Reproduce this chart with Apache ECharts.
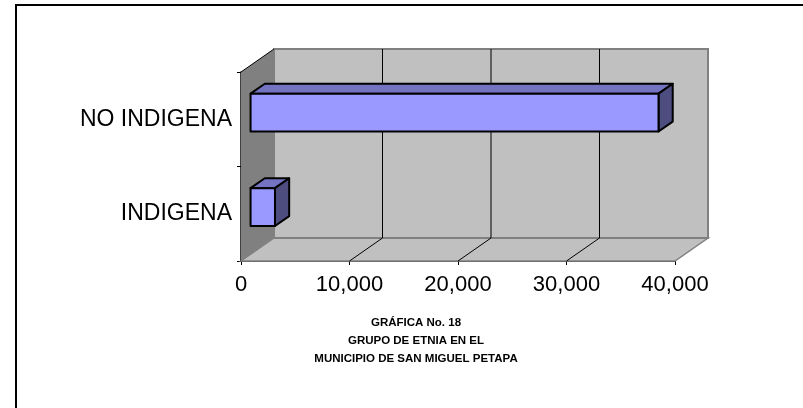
<!DOCTYPE html>
<html>
<head>
<meta charset="utf-8">
<script src="https://cdn.jsdelivr.net/npm/echarts@6/dist/echarts.min.js"></script>
<style>
  html, body { margin: 0; padding: 0; background: #fff; }
  #chart { width: 803px; height: 408px; }
</style>
</head>
<body>
<div id="chart"></div>
<script>
const categories = ['INDIGENA', 'NO INDIGENA']
const values = [2250, 37600]
const xTicks = [0, 10000, 20000, 30000, 40000]
const titleLines = ['GRÁFICA No. 18', 'GRUPO DE ETNIA EN EL', 'MUNICIPIO DE SAN MIGUEL PETAPA']

// depth of the 3D box (back wall offset)
const DX = 33
const DY = -23
// bar sits between these depth fractions
const F1 = 0.29
const F2 = 0.72

const chart = echarts.init(document.getElementById('chart'))

const renderFrame = (params, api) => {
  const cs = params.coordSys
  const x0 = cs.x, x1 = cs.x + cs.width
  const top = cs.y, bottom = cs.y + cs.height
  const children = []

  // floor
  children.push({
    type: 'polygon',
    shape: { points: [[x0, bottom], [x0 + DX, bottom + DY], [x1 + DX, bottom + DY], [x1, bottom]] },
    style: { fill: '#c0c0c0', stroke: '#808080', lineWidth: 1.5 }
  })
  // back wall
  children.push({
    type: 'rect',
    shape: { x: x0 + DX, y: top + DY, width: x1 - x0, height: bottom - top },
    style: { fill: '#c0c0c0', stroke: '#808080', lineWidth: 2 }
  })
  // side wall
  children.push({
    type: 'polygon',
    shape: { points: [[x0, top], [x0 + DX, top + DY], [x0 + DX, bottom + DY], [x0, bottom]] },
    style: { fill: '#808080' }
  })
  children.push({
    type: 'line',
    shape: { x1: x0, y1: top, x2: x0 + DX, y2: top + DY },
    style: { stroke: '#000', lineWidth: 1 }
  })

  // grid lines on wall and floor
  xTicks.slice(1, -1).forEach(v => {
    const x = api.coord([v, 0])[0]
    children.push({
      type: 'line',
      shape: { x1: x + DX, y1: top + DY, x2: x + DX, y2: bottom + DY },
      style: { stroke: '#000', lineWidth: 1 }
    })
    children.push({
      type: 'line',
      shape: { x1: x, y1: bottom, x2: x + DX, y2: bottom + DY },
      style: { stroke: '#000', lineWidth: 1 }
    })
  })
  return { type: 'group', children }
}

const renderBar = (params, api) => {
  const idx = api.value(1)
  const base = api.coord([0, idx])
  const end = api.coord([api.value(0), idx])
  const bandH = api.size([0, 1])[1]
  const h = bandH * 0.4
  const ox = DX * F1, oy = DY * F1
  const bdx = DX * (F2 - F1), bdy = DY * (F2 - F1)
  const xl = base[0] + ox, xr = end[0] + ox
  const yt = base[1] + oy - h / 2, yb = base[1] + oy + h / 2
  const line = { stroke: '#000', lineWidth: 2, lineJoin: 'round' }

  return {
    type: 'group',
    children: [
      {
        type: 'polygon',
        shape: { points: [[xl, yt], [xl + bdx, yt + bdy], [xr + bdx, yt + bdy], [xr, yt]] },
        style: Object.assign({ fill: '#7373c2' }, line)
      },
      {
        type: 'polygon',
        shape: { points: [[xr, yt], [xr + bdx, yt + bdy], [xr + bdx, yb + bdy], [xr, yb]] },
        style: Object.assign({ fill: '#4d4d80' }, line)
      },
      {
        type: 'rect',
        shape: { x: xl, y: yt, width: xr - xl, height: yb - yt },
        style: Object.assign({ fill: '#9999ff' }, line)
      }
    ]
  }
}

const option = {
  animation: false,
  textStyle: { fontFamily: 'Liberation Sans, Arial, sans-serif' },
  grid: { left: 241, top: 72, width: 434, height: 189 },
  xAxis: {
    type: 'value',
    min: 0,
    max: 40000,
    interval: 10000,
    axisLine: { show: true, lineStyle: { color: '#000', width: 1.5 } },
    axisTick: { show: true, length: 4, lineStyle: { color: '#000' } },
    axisLabel: {
      color: '#000',
      fontSize: 22,
      margin: 13,
      formatter: v => v.toLocaleString('en-US')
    },
    splitLine: { show: false }
  },
  yAxis: {
    type: 'category',
    data: categories,
    axisLine: { show: true, lineStyle: { color: '#000', width: 1.5 } },
    axisTick: { show: true, length: 4, lineStyle: { color: '#000' } },
    axisLabel: { color: '#000', fontSize: 23, margin: 9 }
  },
  graphic: [
    {
      type: 'rect',
      shape: { x: 16, y: 5, width: 800, height: 420 },
      style: { fill: 'none', stroke: '#000', lineWidth: 2 },
      silent: true
    }
  ].concat(titleLines.map((t, i) => ({
    type: 'text',
    x: 416,
    y: 323 + i * 18,
    style: {
      text: t,
      textAlign: 'center',
      textVerticalAlign: 'middle',
      fill: '#000',
      font: 'bold 11.5px "Liberation Sans", Arial, sans-serif'
    }
  }))),
  series: [
    {
      type: 'custom',
      name: 'frame',
      renderItem: renderFrame,
      data: [[0, 0]],
      clip: false,
      z: 1,
      silent: true
    },
    {
      type: 'custom',
      name: 'etnia',
      renderItem: renderBar,
      data: values.map((v, i) => [v, i]),
      encode: { x: 0, y: 1 },
      clip: false,
      z: 3
    }
  ]
}

chart.setOption(option)
</script>
</body>
</html>
